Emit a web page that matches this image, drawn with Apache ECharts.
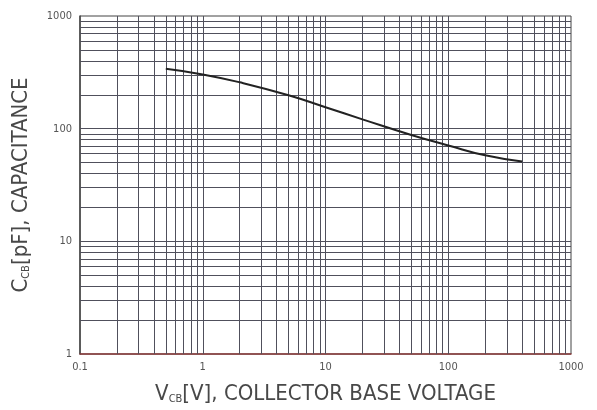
<!DOCTYPE html>
<html><head><meta charset="utf-8">
<script src="https://cdn.jsdelivr.net/npm/echarts@6/dist/echarts.min.js"></script>
<style>html,body{margin:0;padding:0;background:#fff}#c{width:597px;height:410px}</style>
</head><body><div id="c"></div>
<script>
var voltage = [0.5, 1, 2, 5, 10, 20, 50, 100, 200, 400];
var capacitance = [340, 303, 258, 198, 155, 121, 88, 71, 58, 51];
var xTickLabels = ['0.1', '1', '10', '100', '1000'];
var yTickLabels = ['1', '10', '100', '1000'];

var xMinor = [], yMinor = [];
[0.1, 1, 10, 100].forEach(function (d) { for (var k = 2; k <= 9; k++) xMinor.push(+(d * k).toPrecision(3)); });
[1, 10, 100].forEach(function (d) { for (var k = 2; k <= 9; k++) yMinor.push(+(d * k).toPrecision(3)); });
var majorX = [1, 10, 100], majorY = [10, 100];

var gridLines = [];
xMinor.concat(majorX).forEach(function (v) { gridLines.push({ xAxis: v }); });
yMinor.concat(majorY).forEach(function (v) { gridLines.push({ yAxis: v }); });

var font = "'DejaVu Sans Condensed', 'Liberation Sans Narrow', sans-serif";
var chart = echarts.init(document.getElementById('c'));
chart.setOption({
  animation: false,
  backgroundColor: '#fff',
  grid: { left: 80, right: 26, top: 16, bottom: 54, show: true, borderColor: '#444', borderWidth: 1 },
  xAxis: {
    type: 'log', logBase: 10, min: 0.1, max: 1000,
    axisLine: { show: true, lineStyle: { color: '#8a3a3a', width: 1.5 } },
    axisTick: { show: false },
    splitLine: { show: false },
    axisLabel: { color: '#555', fontSize: 11, fontFamily: font, margin: 8,
      formatter: function (v) { var s = String(+v.toPrecision(3)); return xTickLabels.indexOf(s) >= 0 ? s : ''; } },
    name: '{main|V}{sub|CB}{main|[V], COLLECTOR BASE VOLTAGE}',
    nameLocation: 'middle', nameGap: 29,
    nameTextStyle: { rich: {
      main: { fontSize: 22, color: '#484848', fontFamily: font },
      sub: { fontSize: 11, color: '#484848', fontFamily: font, verticalAlign: 'bottom', padding: [8, 0, 0, 0] }
    } }
  },
  yAxis: {
    type: 'log', logBase: 10, min: 1, max: 1000,
    axisLine: { show: true, lineStyle: { color: '#444', width: 1.5 } },
    axisTick: { show: false },
    splitLine: { show: false },
    axisLabel: { color: '#555', fontSize: 11, fontFamily: font, margin: 8,
      formatter: function (v) { var s = String(+v.toPrecision(3)); return yTickLabels.indexOf(s) >= 0 ? s : ''; } },
    name: '{main|C}{sub|CB}{main|[pF], CAPACITANCE}',
    nameLocation: 'middle', nameGap: 48, nameRotate: 90,
    nameTextStyle: { rich: {
      main: { fontSize: 22, color: '#484848', fontFamily: font },
      sub: { fontSize: 11, color: '#484848', fontFamily: font, verticalAlign: 'bottom', padding: [8, 0, 0, 0] }
    } }
  },
  series: [{
    type: 'line',
    data: voltage.map(function (v, i) { return [v, capacitance[i]]; }),
    smooth: 0.5,
    showSymbol: false,
    lineStyle: { color: '#222', width: 2 },
    z: 5,
    markLine: {
      silent: true, symbol: 'none', animation: false,
      label: { show: false },
      lineStyle: { color: '#50505c', width: 1, type: 'solid' },
      data: gridLines
    }
  }]
});
</script></body></html>
